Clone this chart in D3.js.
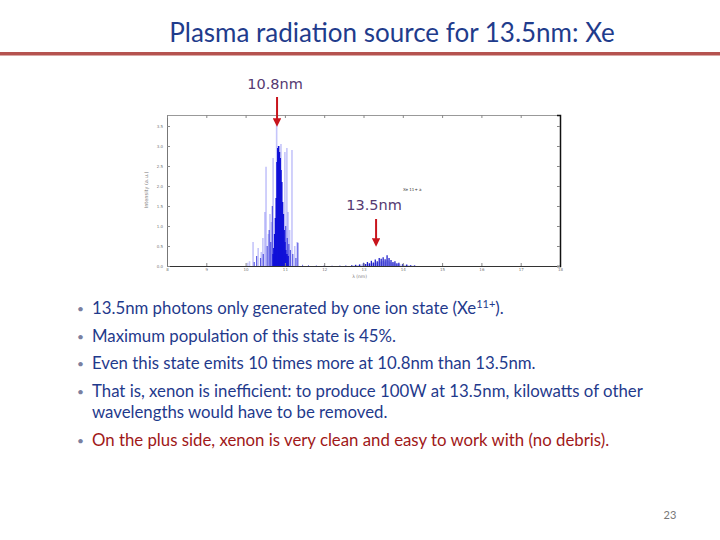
<!DOCTYPE html>
<html>
<head>
<meta charset="utf-8">
<script src="https://cdn.jsdelivr.net/npm/d3@7"></script>
<style>
  body { margin: 0; background: #fff; }
  svg { display: block; }
</style>
</head>
<body>
<div id="chart"></div>
<script>
// spectrum lines, wavelength (nm) and intensity (arb. units)
var coreWl  = [10.70, 10.72, 10.74, 10.76, 10.78, 10.80, 10.82, 10.84, 10.86, 10.88, 10.90, 10.92, 10.94, 10.96, 10.98, 11.00, 11.02, 11.05, 11.08];
var coreInt = [0.30, 0.45, 0.80, 1.20, 1.70, 2.60, 2.95, 3.00, 2.85, 2.70, 2.40, 2.10, 1.60, 1.30, 0.90, 0.60, 0.40, 0.30, 0.25];

var medWl  = [10.22, 10.28, 10.38, 10.45, 10.55, 10.60, 10.64, 10.68, 11.02, 11.06, 11.10, 11.14, 11.20, 11.28, 11.33];
var medInt = [0.10, 0.25, 0.20, 0.30, 0.50, 0.90, 0.60, 1.50, 1.00, 0.70, 0.55, 0.40, 0.30, 0.20, 0.58];

var faintWl  = [10.05, 10.10, 10.19, 10.32, 10.40, 10.44, 10.49, 10.52, 10.58, 10.62, 10.66, 10.70, 10.79, 10.90, 11.00, 11.05, 11.08, 11.12, 11.18, 11.25, 11.31];
var faintInt = [0.08, 0.12, 0.60, 0.45, 0.35, 0.70, 1.35, 2.48, 0.80, 1.30, 1.10, 2.70, 3.60, 3.05, 2.85, 2.95, 1.35, 0.90, 2.90, 0.50, 0.60];

var bumpWl  = [12.70, 12.80, 12.90, 13.00, 13.05, 13.10, 13.15, 13.20, 13.25, 13.30, 13.35, 13.40, 13.45, 13.50, 13.55, 13.60, 13.65, 13.70, 13.75, 13.80, 13.85, 13.90, 14.00, 14.10, 14.20, 14.30];
var bumpInt = [0.02, 0.03, 0.04, 0.08, 0.05, 0.10, 0.07, 0.13, 0.09, 0.16, 0.12, 0.20, 0.18, 0.22, 0.17, 0.27, 0.20, 0.15, 0.10, 0.12, 0.07, 0.08, 0.05, 0.04, 0.02, 0.015];

var tailWl  = [11.45, 11.60, 11.80, 12.00, 12.20, 12.40, 12.55];
var tailInt = [0.03, 0.02, 0.015, 0.02, 0.01, 0.015, 0.02];

var xTicks = [8, 9, 10, 11, 12, 13, 14, 15, 16, 17, 18];
var yTicks = [0, 0.5, 1, 1.5, 2, 2.5, 3, 3.5];

var notes = [
  {label: "10.8nm", wl: 10.8, textY: 89, y0: 97, y1: 127},
  {label: "13.5nm", wl: 13.32, textY: 210, y0: 219, y1: 247}
];

var bullets = [
  {parts: [["13.5nm photons only generated by one ion state (Xe", ""], ["11+", "sup"], [").", ""]], y: 314, color: "#1f3a8c"},
  {parts: [["Maximum population of this state is 45%.", ""]], y: 342, color: "#1f3a8c"},
  {parts: [["Even this state emits 10 times more at 10.8nm than 13.5nm.", ""]], y: 369, color: "#1f3a8c"},
  {parts: [["That is, xenon is inefficient: to produce 100W at 13.5nm, kilowatts of other", ""]], y: 397, color: "#1f3a8c"},
  {parts: [["wavelengths would have to be removed.", ""]], y: 418, color: "#1f3a8c", noDot: true},
  {parts: [["On the plus side, xenon is very clean and easy to work with (no debris).", ""]], y: 446, color: "#a01818"}
];

var width = 720, height = 540;

var svg = d3.select("#chart").append("svg")
  .attr("width", width)
  .attr("height", height);

// title + rule
svg.append("text")
  .attr("x", 392).attr("y", 42)
  .attr("text-anchor", "middle")
  .style("font-family", "Lato, 'Open Sans', sans-serif")
  .style("font-size", "26px")
  .attr("fill", "#1f3c8c")
  .text("Plasma radiation source for 13.5nm: Xe");

svg.append("rect")
  .attr("x", 0).attr("y", 52).attr("width", width).attr("height", 3.5)
  .attr("fill", "#b5534f");

// spectrum plot
var plot = {left: 167, right: 560, top: 115, bottom: 266};

var x = d3.scaleLinear().domain([8, 18]).range([plot.left, plot.right]);
var y = d3.scaleLinear().domain([0, 3.775]).range([plot.bottom, plot.top]);

var g = svg.append("g");

function drawLines(wl, vals, color, opacity, w) {
  g.append("g").selectAll("line")
    .data(wl.map(function(d, i) { return {wl: d, v: vals[i]}; }))
    .enter().append("line")
    .attr("x1", function(d) { return x(d.wl); })
    .attr("x2", function(d) { return x(d.wl); })
    .attr("y1", y(0))
    .attr("y2", function(d) { return y(d.v); })
    .attr("stroke", color)
    .attr("stroke-opacity", opacity)
    .attr("stroke-width", w);
}

// light fill under the 13.5 bump
g.append("path")
  .datum(bumpWl.map(function(d, i) { return [d, bumpInt[i]]; }))
  .attr("fill", "#9aa0f0")
  .attr("fill-opacity", 0.5)
  .attr("d", d3.area()
    .x(function(d) { return x(d[0]); })
    .y0(y(0))
    .y1(function(d) { return y(d[1] * 0.6); }));

drawLines(faintWl, faintInt, "#5a5af0", 0.35, 1.6);
drawLines(tailWl, tailInt, "#2a2ad8", 0.7, 1);
drawLines(medWl, medInt, "#2020d8", 0.7, 1.2);
drawLines(coreWl, coreInt, "#1010d8", 1, 1.6);
drawLines(bumpWl, bumpInt, "#1414c8", 0.95, 1.3);

// axes, matlab style box
var tickFont = function(sel) {
  sel.selectAll("text")
    .style("font-family", "'DejaVu Sans', sans-serif")
    .style("font-size", "4px")
    .attr("fill", "#777");
};

g.append("g")
  .attr("transform", "translate(0," + plot.bottom + ")")
  .call(d3.axisBottom(x).tickValues(xTicks).tickSize(-3).tickPadding(2))
  .call(tickFont)
  .call(function(s) { s.select(".domain").attr("stroke", "#333"); s.selectAll(".tick line").attr("stroke", "#888"); });

g.append("g")
  .attr("transform", "translate(" + plot.left + ",0)")
  .call(d3.axisLeft(y).tickValues(yTicks).tickSize(-3).tickPadding(4))
  .call(tickFont)
  .call(function(s) { s.select(".domain").attr("stroke", "#777"); s.selectAll(".tick line").attr("stroke", "#888"); });

g.append("g")
  .attr("transform", "translate(0," + plot.top + ")")
  .call(d3.axisTop(x).tickValues(xTicks).tickSize(-3).tickFormat(""))
  .call(function(s) { s.select(".domain").attr("stroke", "#999"); s.selectAll(".tick line").attr("stroke", "#888"); });

g.append("g")
  .attr("transform", "translate(" + plot.right + ",0)")
  .call(d3.axisRight(y).tickValues(yTicks).tickSize(-3).tickFormat(""))
  .call(function(s) { s.select(".domain").attr("stroke", "#111").attr("stroke-width", 1.5); s.selectAll(".tick line").attr("stroke", "#888"); });

g.append("text")
  .attr("transform", "translate(148,190) rotate(-90)")
  .attr("text-anchor", "middle")
  .style("font-family", "'DejaVu Sans', sans-serif")
  .style("font-size", "5px")
  .attr("fill", "#777")
  .text("Intensity (a.u.)");

g.append("text")
  .attr("x", x(12.9)).attr("y", 278)
  .attr("text-anchor", "middle")
  .style("font-family", "'DejaVu Sans', sans-serif")
  .style("font-size", "4.5px")
  .attr("fill", "#777")
  .text("λ (nm)");

g.append("text")
  .attr("x", 403).attr("y", 191)
  .style("font-family", "'DejaVu Sans', sans-serif")
  .style("font-size", "4px")
  .attr("fill", "#333")
  .text("Xe 11+  a");

// arrows + labels
svg.append("defs").append("marker")
  .attr("id", "head")
  .attr("viewBox", "0 0 10 10")
  .attr("refX", 2).attr("refY", 5)
  .attr("markerWidth", 4.2).attr("markerHeight", 4.2)
  .attr("orient", "auto")
  .append("path")
  .attr("d", "M0,0 L10,5 L0,10 Z")
  .attr("fill", "#c8141c");

notes.forEach(function(n) {
  svg.append("line")
    .attr("x1", x(n.wl)).attr("x2", x(n.wl))
    .attr("y1", n.y0).attr("y2", n.y1 - 7)
    .attr("stroke", "#c8141c")
    .attr("stroke-width", 2)
    .attr("marker-end", "url(#head)");
  svg.append("text")
    .attr("x", x(n.wl) - 2).attr("y", n.textY)
    .attr("text-anchor", "middle")
    .style("font-family", "'DejaVu Sans', sans-serif")
    .style("font-size", "14.5px")
    .attr("fill", "#553a72")
    .text(n.label);
});

// bullet list
bullets.forEach(function(b) {
  if (!b.noDot) {
    svg.append("text")
      .attr("x", 77).attr("y", b.y - 1)
      .style("font-family", "Lato, sans-serif")
      .style("font-size", "12px")
      .attr("fill", "#7a80a0")
      .text("•");
  }
  var t = svg.append("text")
    .attr("x", 92).attr("y", b.y)
    .style("font-family", "Lato, sans-serif")
    .style("font-size", "16.8px")
    .attr("fill", b.color);
  b.parts.forEach(function(p) {
    var ts = t.append("tspan").text(p[0]);
    if (p[1] === "sup") ts.attr("dy", -6).style("font-size", "11px");
    else if (t.selectAll("tspan").size() > 1) ts.attr("dy", 6);
  });
});

svg.append("text")
  .attr("x", 670).attr("y", 519)
  .attr("text-anchor", "middle")
  .style("font-family", "Lato, sans-serif")
  .style("font-size", "11px")
  .attr("fill", "#777")
  .text("23");
</script>
</body>
</html>
